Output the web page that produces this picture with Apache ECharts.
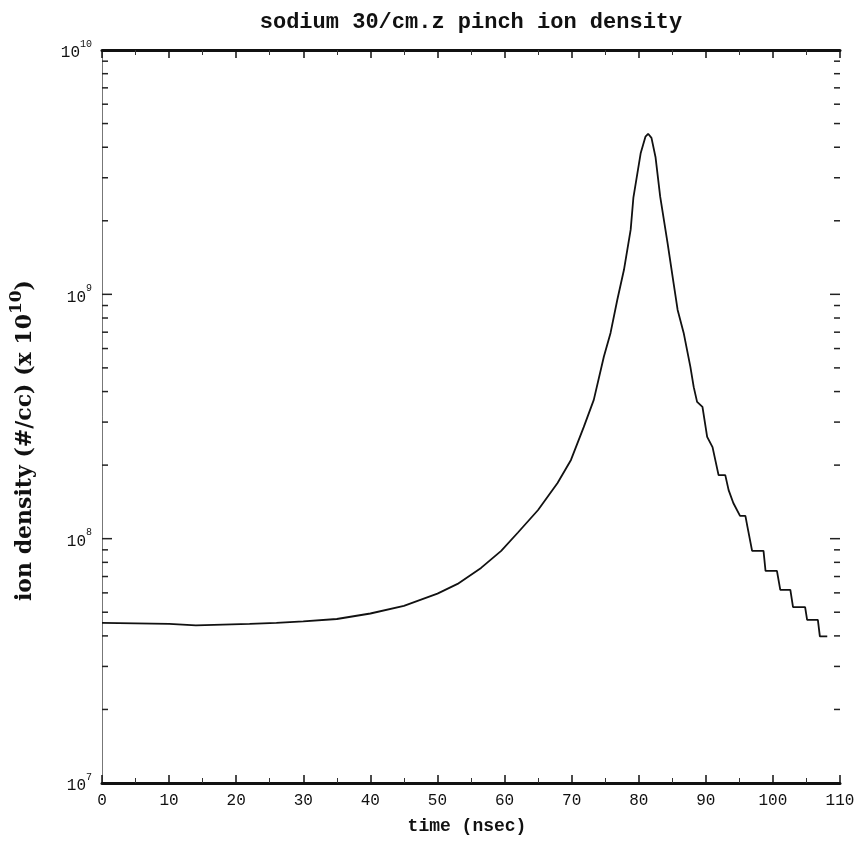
<!DOCTYPE html>
<html>
<head>
<meta charset="utf-8">
<script src="https://cdn.jsdelivr.net/npm/echarts@6/dist/echarts.min.js"></script>
<style>html,body{margin:0;padding:0;background:#fff}#c{width:863px;height:842px}</style>
</head>
<body>
<div id="c"></div>
<script>
// ---- data ----
const titleText = 'sodium 30/cm.z pinch ion density';
const xName = 'time (nsec)';
const timeNs = [0, 5, 10, 14, 18, 22, 26, 30, 35, 40, 45, 50, 53, 56.5, 59.5, 62, 65, 67.9, 69.9, 71.8, 73.3, 74.8, 75.8, 76.8, 77.8, 78.8, 79.2, 80.3, 81.0, 81.4, 81.9, 82.5, 83.2, 84.3, 85.2, 85.8, 86.7, 87.7, 88.2, 88.7, 89.5, 90.2, 91.0, 91.9, 92.9, 93.4, 94.1, 95.1, 95.9, 96.2, 96.9, 98.6, 98.9, 100.6, 101.1, 102.6, 103.0, 104.8, 105.1, 106.7, 107.0, 108.1];
const ionDensity = [4.52e7, 4.50e7, 4.48e7, 4.42e7, 4.45e7, 4.48e7, 4.52e7, 4.59e7, 4.69e7, 4.94e7, 5.31e7, 5.96e7, 6.53e7, 7.59e7, 8.91e7, 1.06e8, 1.31e8, 1.69e8, 2.10e8, 2.86e8, 3.70e8, 5.55e8, 6.95e8, 9.48e8, 1.26e9, 1.84e9, 2.48e9, 3.79e9, 4.42e9, 4.54e9, 4.37e9, 3.65e9, 2.51e9, 1.62e9, 1.11e9, 8.63e8, 6.95e8, 5.05e8, 4.17e8, 3.63e8, 3.46e8, 2.61e8, 2.37e8, 1.82e8, 1.82e8, 1.58e8, 1.40e8, 1.24e8, 1.24e8, 1.12e8, 8.91e7, 8.91e7, 7.38e7, 7.38e7, 6.17e7, 6.17e7, 5.25e7, 5.25e7, 4.65e7, 4.65e7, 3.98e7, 3.98e7];
const yMajorTicks = [1e8, 1e9];
const yMinorTicks = [2e7,3e7,4e7,5e7,6e7,7e7,8e7,9e7, 2e8,3e8,4e8,5e8,6e8,7e8,8e8,9e8, 2e9,3e9,4e9,5e9,6e9,7e9,8e9,9e9];

const seriesData = timeNs.map((t, i) => [t, ionDensity[i]]);
const mono = 'Liberation Mono';

const chart = echarts.init(document.getElementById('c'), null, {renderer: 'canvas'});
const supFmt = v => {
  const e = Math.round(Math.log10(v));
  return '{b|10}{s|' + e + '}';
};
const labelRich = {
  b: {fontFamily: mono, fontSize: 16, color: '#111', padding: [6, 0, 0, 0]},
  s: {fontFamily: mono, fontSize: 10, color: '#111', verticalAlign: 'top', padding: [0, 0, 6, 0]}
};
const tickSeries = (vals, len) => ({
  type: 'custom', xAxisIndex: 0, yAxisIndex: 0, silent: true, z: 5,
  data: vals.map(v => [0, v]),
  renderItem: (params, api) => {
    const y = api.coord([0, api.value(1)])[1];
    const cs = params.coordSys;
    return {
      type: 'group',
      children: [
        {type: 'line', shape: {x1: cs.x, y1: y, x2: cs.x + len, y2: y}, style: {stroke: '#222', lineWidth: 1.5}},
        {type: 'line', shape: {x1: cs.x + cs.width - len, y1: y, x2: cs.x + cs.width, y2: y}, style: {stroke: '#222', lineWidth: 1.5}}
      ]
    };
  }
});
chart.setOption({
  animation: false,
  backgroundColor: '#fff',
  title: {
    text: titleText, left: 466, top: 6, textAlign: 'center',
    textStyle: {fontFamily: mono, fontSize: 22, fontWeight: 'bold', color: '#111'}
  },
  grid: {left: 100, right: 23, top: 50, bottom: 59},
  xAxis: [{
    type: 'value', position: 'bottom', min: 0, max: 110, interval: 10,
    name: xName, nameLocation: 'middle', nameGap: 34,
    nameTextStyle: {fontFamily: mono, fontSize: 18, fontWeight: 'bold', color: '#111', padding: [0, 8, 0, 0]},
    axisLine: {lineStyle: {color: '#111', width: 3}},
    axisTick: {inside: true, length: 8, lineStyle: {color: '#111', width: 1.5}},
    minorTick: {show: true, splitNumber: 2, length: 5, lineStyle: {color: '#333'}},
    axisLabel: {fontFamily: mono, fontSize: 16, color: '#111', margin: 10},
    splitLine: {show: false}
  }, {
    type: 'value', position: 'top', min: 0, max: 110, interval: 10,
    axisLine: {lineStyle: {color: '#111', width: 3}},
    axisTick: {inside: true, length: 8, lineStyle: {color: '#111', width: 1.5}},
    minorTick: {show: true, splitNumber: 2, length: 5, lineStyle: {color: '#333'}},
    axisLabel: {show: false},
    splitLine: {show: false}
  }],
  yAxis: [{
    type: 'log', logBase: 10, min: 1e7, max: 1e10, position: 'left',
    name: '{t|ion density (#/cc) (x 10}{s|10}{t|)}',
    nameLocation: 'middle', nameGap: 66, nameRotate: 90,
    nameTextStyle: {
      padding: [0, 48, 0, 0],
      rich: {
        t: {fontFamily: 'DejaVu Serif', fontSize: 22, fontWeight: 'bold', color: '#111', padding: [6, 0, 0, 0]},
        s: {fontFamily: 'DejaVu Serif', fontSize: 17, fontWeight: 'bold', color: '#111', verticalAlign: 'top', padding: [0, 0, 6, 0]}
      }
    },
    axisLine: {lineStyle: {color: '#777', width: 1}},
    axisTick: {show: false},
    axisLabel: {formatter: supFmt, rich: labelRich, margin: 10},
    splitLine: {show: false}
  }, {
    type: 'log', logBase: 10, min: 1e7, max: 1e10, position: 'right',
    axisLine: {lineStyle: {color: '#777', width: 1}},
    axisTick: {show: false},
    axisLabel: {show: false},
    splitLine: {show: false}
  }],
  series: [{
    type: 'line', data: seriesData, xAxisIndex: 0, yAxisIndex: 0,
    showSymbol: false, smooth: false,
    lineStyle: {color: '#111', width: 1.8}
  }, tickSeries(yMajorTicks, 10), tickSeries(yMinorTicks, 6)]
});
</script>
</body>
</html>
